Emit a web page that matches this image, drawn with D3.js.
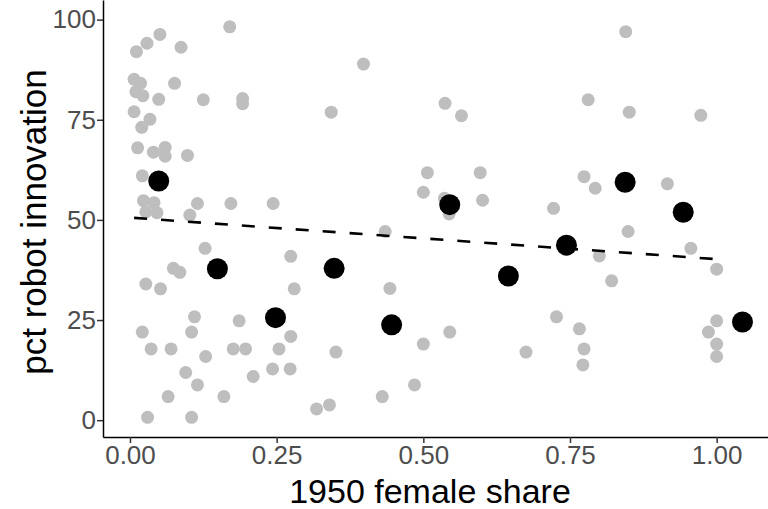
<!DOCTYPE html>
<html>
<head>
<meta charset="utf-8">
<script src="https://cdn.jsdelivr.net/npm/d3@7"></script>
<style>
  body { margin: 0; background: #fff; }
  svg { display: block; }
</style>
</head>
<body>
<div class="chart"></div>
<script>
// grey points: 1950 female share vs pct robot innovation
var shareX = [
  0.170, 0.051, 0.029, 0.011, 0.087, 0.007, 0.018, 0.076, 0.010, 0.022,
  0.049, 0.125, 0.192, 0.192, 0.007, 0.034, 0.020, 0.013, 0.040, 0.060,
  0.060, 0.098, 0.021, 0.023, 0.041, 0.027, 0.046, 0.115, 0.172, 0.244,
  0.102, 0.128, 0.274, 0.074, 0.085, 0.027, 0.052, 0.280, 0.110, 0.186,
  0.021, 0.105, 0.274, 0.036, 0.070, 0.176, 0.197, 0.254, 0.129, 0.095,
  0.243, 0.273, 0.210, 0.115, 0.065, 0.160, 0.318, 0.030, 0.105, 0.398,
  0.343, 0.537, 0.565, 0.507, 0.597, 0.500, 0.536, 0.544, 0.601, 0.435,
  0.443, 0.351, 0.500, 0.545, 0.485, 0.430, 0.340, 0.722, 0.727, 0.675,
  0.845, 0.781, 0.851, 0.973, 0.774, 0.793, 0.916, 0.849, 0.956, 0.800,
  0.821, 1.000, 0.766, 0.774, 0.772, 1.000, 0.986, 1.000, 1.000
];
var robotY = [
  98.2, 96.3, 94.1, 92.0, 93.1, 85.1, 84.1, 84.1, 82.0, 81.0,
  80.1, 80.0, 80.3, 79.0, 77.0, 75.1, 73.1, 68.0, 66.9, 68.1,
  65.9, 66.1, 61.0, 54.8, 54.3, 52.0, 51.8, 54.1, 54.1, 54.1,
  51.2, 42.9, 40.9, 37.9, 36.9, 34.0, 32.8, 32.8, 25.8, 24.8,
  22.0, 22.0, 20.9, 17.8, 17.8, 17.8, 17.8, 17.8, 15.9, 11.9,
  12.8, 12.8, 10.9, 8.8, 5.9, 5.9, 2.8, 0.7, 0.7, 88.9,
  76.9, 79.1, 76.0, 61.8, 61.8, 56.9, 55.4, 51.5, 54.9, 47.1,
  32.9, 17.0, 19.0, 22.0, 8.8, 5.9, 3.8, 52.9, 25.8, 17.0,
  97.0, 80.0, 76.9, 76.1, 60.8, 57.9, 59.0, 47.1, 42.9, 41.0,
  34.8, 37.7, 22.8, 17.8, 13.8, 24.8, 22.0, 19.0, 15.9
];

// binned means (black points)
var binX = [0.049, 0.149, 0.248, 0.348, 0.446, 0.545, 0.645, 0.744, 0.844, 0.943, 1.044];
var binY = [59.7, 37.8, 25.6, 37.9, 23.8, 53.8, 36.0, 43.7, 59.4, 51.9, 24.5];

// linear fit end points
var fitX = [0.007, 1.0];
var fitY = [50.5, 40.2];

var xTicks = [0, 0.25, 0.5, 0.75, 1];
var yTicks = [0, 25, 50, 75, 100];

var chart_width = 768;
var chart_height = 509;

var svg = d3.select('.chart')
  .append('svg')
  .attr('width', chart_width)
  .attr('height', chart_height)

var x = d3.scaleLinear().domain([-0.046, 1.0875]).range([103, 768]);
var y = d3.scaleLinear().domain([-4.2, 104.9]).range([437, 0]);

var font = "'Liberation Sans', Arial, sans-serif";

// grey raw points
svg.append('g')
  .selectAll('circle')
  .data(d3.range(shareX.length))
  .enter()
  .append('circle')
  .attr('cx', function (i) { return x(shareX[i]) })
  .attr('cy', function (i) { return y(robotY[i]) })
  .attr('r', 6.5)
  .attr('fill', '#bebebe')

// dashed fit line
var line = d3.line()
  .x(function (d, i) { return x(fitX[i]) })
  .y(function (d, i) { return y(fitY[i]) })

svg.append('path')
  .attr('d', line(fitX))
  .attr('fill', 'none')
  .attr('stroke', '#000')
  .attr('stroke-width', 2.6)
  .attr('stroke-dasharray', '13,14')

// black bin means
svg.append('g')
  .selectAll('circle')
  .data(d3.range(binX.length))
  .enter()
  .append('circle')
  .attr('cx', function (i) { return x(binX[i]) })
  .attr('cy', function (i) { return y(binY[i]) })
  .attr('r', 10.5)
  .attr('fill', '#000')

// axes
var xAxis = svg.append('g')
  .attr('transform', 'translate(0,437)')
  .call(d3.axisBottom(x).tickValues(xTicks).tickFormat(d3.format('.2f')).tickSize(6).tickSizeOuter(0).tickPadding(3))

var yAxis = svg.append('g')
  .attr('transform', 'translate(103,0)')
  .call(d3.axisLeft(y).tickValues(yTicks).tickSize(6).tickSizeOuter(0).tickPadding(1))

;[xAxis, yAxis].forEach(function (g) {
  g.select('.domain').attr('stroke', '#000').attr('stroke-width', 1.5)
  g.selectAll('.tick line').attr('stroke', '#333').attr('stroke-width', 1.5)
  g.selectAll('.tick text')
    .attr('fill', '#4d4d4d')
    .style('font-family', font)
    .style('font-size', '26px')
})

// axis titles
svg.append('text')
  .attr('x', 430)
  .attr('y', 503)
  .attr('text-anchor', 'middle')
  .style('font-family', font)
  .style('font-size', '34px')
  .attr('fill', '#000')
  .text('1950 female share')

svg.append('text')
  .attr('transform', 'translate(46,222) rotate(-90)')
  .attr('text-anchor', 'middle')
  .style('font-family', font)
  .style('font-size', '35px')
  .attr('fill', '#000')
  .text('pct robot innovation')
</script>
</body>
</html>
